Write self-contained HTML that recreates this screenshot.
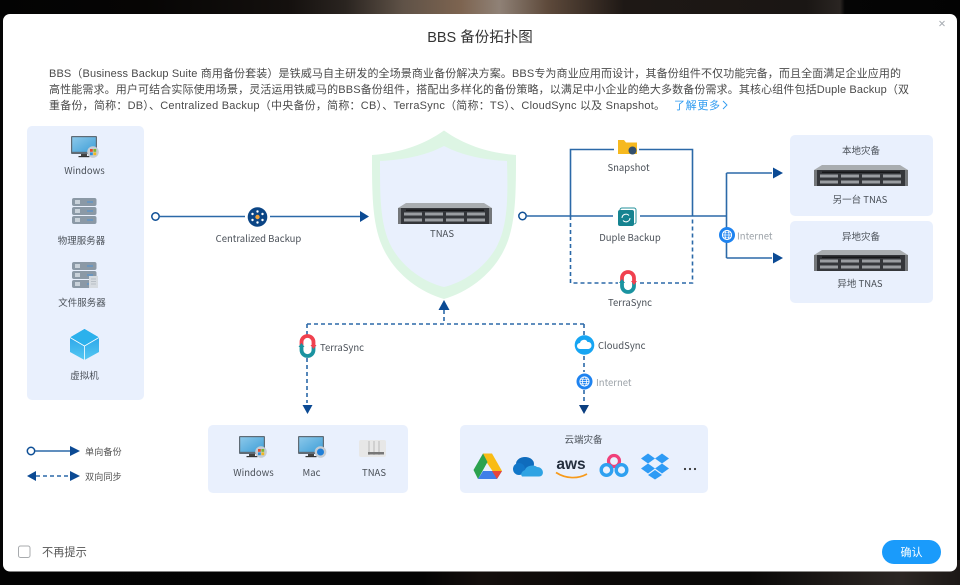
<!DOCTYPE html>
<html><head><meta charset="utf-8"><style>
html,body{margin:0;padding:0;width:960px;height:585px;overflow:hidden;background:#050505}
svg{display:block}
text{font-family:"Liberation Sans","Noto Sans CJK SC",sans-serif}
.l{font-family:"Noto Sans CJK SC","Liberation Sans",sans-serif;font-size:9.5px;fill:#4a5058;text-anchor:middle}
.p{font-size:11px;fill:#4a4a4a}
</style></head><body>
<svg xmlns="http://www.w3.org/2000/svg" width="960" height="585" viewBox="0 0 960 585">
<defs>
<linearGradient id="top" x1="0" x2="1" y1="0" y2="0">
<stop offset="0" stop-color="#030303"/><stop offset=".15" stop-color="#060504"/><stop offset=".3" stop-color="#14100e"/><stop offset=".36" stop-color="#2a2420"/><stop offset=".42" stop-color="#5f5247"/><stop offset=".48" stop-color="#7d6450"/><stop offset=".52" stop-color="#8f8176"/><stop offset=".57" stop-color="#5e4a3b"/><stop offset=".65" stop-color="#1e1815"/><stop offset=".84" stop-color="#1a1614"/><stop offset=".875" stop-color="#2a2522"/><stop offset=".88" stop-color="#050505"/><stop offset="1" stop-color="#030303"/>
</linearGradient>
<linearGradient id="bot" x1="0" x2="1" y1="0" y2="0">
<stop offset="0" stop-color="#030303"/><stop offset=".44" stop-color="#040404"/><stop offset=".5" stop-color="#140e0c"/><stop offset=".62" stop-color="#0b0908"/><stop offset=".78" stop-color="#0a0908"/><stop offset=".87" stop-color="#1e1a18"/><stop offset=".94" stop-color="#2c2724"/><stop offset="1" stop-color="#1c1816"/>
</linearGradient>
<linearGradient id="scr" x1="0" x2="1" y1="0" y2="1"><stop offset="0" stop-color="#8cc8ea"/><stop offset="1" stop-color="#3f9fd8"/></linearGradient>
<linearGradient id="cube" x1="0" x2="0" y1="0" y2="1"><stop offset="0" stop-color="#1f9be6"/><stop offset="1" stop-color="#55c8f2"/></linearGradient>
<g id="rack">
<path d="M8 0H86L94 5H0Z" fill="#a9adb0"/>
<rect x="0" y="5" width="94" height="16" fill="#34363a"/>
<g fill="#9a9da1"><rect x="6" y="9.500" width="18" height="3"/><rect x="27" y="9.500" width="18" height="3"/><rect x="48" y="9.500" width="18" height="3"/><rect x="69" y="9.500" width="18" height="3"/><rect x="6" y="15.500" width="18" height="3"/><rect x="27" y="15.500" width="18" height="3"/><rect x="48" y="15.500" width="18" height="3"/><rect x="69" y="15.500" width="18" height="3"/></g>
<rect x="0" y="5" width="3" height="16" fill="#74777a"/><rect x="91" y="5" width="3" height="16" fill="#74777a"/>
<rect x="8" y="6.500" width="78" height="1.500" fill="#17181a"/>
</g>
<g id="mon">
<rect x="0" y="0" width="26" height="18" rx="1" fill="#5f6b75"/>
<rect x="1.200" y="1.200" width="23.600" height="14.600" fill="url(#scr)"/>
<rect x="10" y="18" width="6" height="2" fill="#444"/><rect x="7.500" y="20" width="11" height="1.200" fill="#333"/>
</g>
<g id="winb">
<circle cx="0" cy="0" r="5.800" fill="#c6ccd2"/>
<rect x="-3" y="-3" width="2.800" height="2.800" fill="#e2492f"/><rect x=".4" y="-3" width="2.800" height="2.800" fill="#7cb62f"/><rect x="-3" y=".4" width="2.800" height="2.800" fill="#2f8fdb"/><rect x=".4" y=".4" width="2.800" height="2.800" fill="#f1b81f"/>
</g>
<g id="srv">
<rect x="0" y="0" width="24.500" height="8" rx="2" fill="#8b99a6"/><rect x="0" y="9" width="24.500" height="8" rx="2" fill="#8b99a6"/><rect x="0" y="18" width="24.500" height="8" rx="2" fill="#8b99a6"/>
<g fill="#c9d2da"><rect x="3" y="2" width="5" height="4"/><rect x="3" y="11" width="5" height="4"/><rect x="3" y="20" width="5" height="4"/></g>
<g fill="#4c93d6"><rect x="15" y="3.500" width="6" height="1"/><rect x="15" y="12.500" width="6" height="1"/><rect x="15" y="21.500" width="6" height="1"/></g>
</g>
<g id="ts">
<path d="M-6 1V-4A6 6 0 0 1 6 -4V1" fill="none" stroke="#f0414f" stroke-width="3.800"/>
<path d="M-6 -1V4A6 6 0 0 0 6 4V-1" fill="none" stroke="#1a93a0" stroke-width="3.800"/>
<path d="M3 -1H9L6 3Z" fill="#f0414f"/><path d="M-9 1H-3L-6 -3Z" fill="#1a93a0"/>
</g>
<g id="globe">
<circle r="8" fill="#1e83f0"/>
<circle r="4.600" fill="none" stroke="#fff" stroke-width="1"/>
<ellipse rx="2" ry="4.600" fill="none" stroke="#fff" stroke-width=".8"/>
<path d="M-4.600 0H4.600M-4 -2.200H4M-4 2.200H4" stroke="#fff" stroke-width=".7"/>
</g>
</defs>

<rect width="960" height="585" fill="#050505"/>
<rect width="960" height="16" fill="url(#top)"/>
<rect y="560" width="960" height="25" fill="url(#bot)"/>
<rect x="3" y="14" width="954" height="557.500" rx="7" fill="#fff"/>

<text x="480" y="42" font-size="14.500" fill="#333" text-anchor="middle">BBS 备份拓扑图</text>
<path d="M939.500 21L944.500 26M944.500 21L939.500 26" stroke="#a8adb3" stroke-width="1"/>

<text class="p" x="49" y="77" textLength="852" lengthAdjust="spacing">BBS（Business Backup Suite 商用备份套装）是铁威马自主研发的全场景商业备份解决方案。BBS专为商业应用而设计，其备份组件不仅功能完备，而且全面满足企业应用的</text>
<text class="p" x="49" y="93" textLength="860" lengthAdjust="spacing">高性能需求。用户可结合实际使用场景，灵活运用铁威马的BBS备份组件，搭配出多样化的备份策略，以满足中小企业的绝大多数备份需求。其核心组件包括Duple Backup（双</text>
<text class="p" x="49" y="109" textLength="616" lengthAdjust="spacing">重备份，简称：DB）、Centralized Backup（中央备份，简称：CB）、TerraSync（简称：TS）、CloudSync 以及 Snapshot。</text>
<text x="674" y="109" font-size="11" fill="#2f9bf0" textLength="46">了解更多</text>
<path d="M723 101L727 105L723 109" fill="none" stroke="#2f9bf0" stroke-width=".9"/>

<!-- left panel -->
<rect x="27" y="126" width="117" height="274" rx="5" fill="#e9f0fd"/>
<use href="#mon" x="71" y="136"/><use href="#winb" x="93" y="152"/>
<text class="l" x="84.500" y="174">Windows</text>
<use href="#srv" x="72" y="198"/>
<text class="l" x="81.500" y="244">物理服务器</text>
<use href="#srv" x="72" y="262"/>
<rect x="89" y="276" width="9" height="12" fill="#d6dbe0"/>
<path d="M91 279H96M91 281.500H96M91 284H96" stroke="#9aa3ab" stroke-width=".6"/>
<text class="l" x="82" y="306">文件服务器</text>
<path d="M84.500 329L99 337.500V352L84.500 360L70 352V337.500Z" fill="url(#cube)"/>
<path d="M84.500 329L99 337.500L84.500 346L70 337.500Z" fill="#2cb1ec"/>
<path d="M70 337.500L84.500 346V360" fill="none" stroke="#fff" stroke-width=".8"/>
<path d="M99 337.500L84.500 346" stroke="#fff" stroke-width=".8"/>
<text class="l" x="84.500" y="379">虚拟机</text>

<!-- centralized -->
<path d="M160 216.500H245M270 216.500H362" stroke="#2b69a8" stroke-width="1.600" fill="none"/>
<circle cx="155.500" cy="216.500" r="3.700" fill="#fff" stroke="#0e4f96" stroke-width="1.500"/>
<circle cx="257.500" cy="217" r="9.800" fill="#0b4585"/>
<g fill="#fff"><circle cx="257.500" cy="211.500" r="1.200"/><circle cx="257.500" cy="222.500" r="1.200"/><circle cx="252.500" cy="214" r="1.200"/><circle cx="262.500" cy="214" r="1.200"/><circle cx="252.500" cy="220" r="1.200"/><circle cx="262.500" cy="220" r="1.200"/></g>
<circle cx="257.500" cy="217" r="2.200" fill="#f2a33a"/>
<text class="l" x="258.500" y="242">Centralized Backup</text>
<path d="M360 211L369 216.500L360 222Z" fill="#0b4a94"/>

<!-- shield -->
<path d="M444 130.500C422 146 398 153 372 155C372 195 372 228 385 252C397 275 420 292 444 299C468 292 491 275 503 252C516 228 516 195 516 155C490 153 466 146 444 130.500Z" fill="#ddf5e4"/>
<path d="M444 146C425 156 402 160 380 161C380 198 380 226 392 248C403 267 423 282 444 287C465 282 485 267 496 248C508 226 508 198 507 161C486 160 463 156 444 146Z" fill="#e9f0fd"/>
<use href="#rack" x="398" y="203"/>
<text class="l" x="442" y="237">TNAS</text>
<path d="M444 300L449.500 310H438.500Z" fill="#0b4a94"/>

<!-- right network -->
<path d="M527 216H613M640 216H726.500M726.500 173V258M726.500 173H772M726.500 258H772" stroke="#2b69a8" stroke-width="1.600" fill="none"/>
<path d="M570.500 216V149.500H614M639 149.500H692.500V216" stroke="#2b69a8" stroke-width="1.600" fill="none"/>
<path d="M570.500 216V283H618M640 283H692.500V216" stroke="#2b69a8" stroke-width="1.600" stroke-dasharray="4 3" fill="none"/>
<circle cx="522.500" cy="216" r="3.700" fill="#fff" stroke="#0e4f96" stroke-width="1.500"/>
<path d="M618 140H624L626 142.500H637V154H618Z" fill="#f6b91f"/>
<circle cx="632.500" cy="150.500" r="4" fill="#33506e"/>
<text class="l" x="628.500" y="171">Snapshot</text>
<rect x="620" y="208" width="16" height="16" rx="2" fill="none" stroke="#25919b" stroke-width="1"/>
<rect x="618" y="210" width="16" height="16" rx="2" fill="#158390"/>
<path d="M622 218a4 4 0 0 1 7-2.500M630 218a4 4 0 0 1 -7 2.500" fill="none" stroke="#fff" stroke-width="1"/>
<text class="l" x="630" y="241">Duple Backup</text>
<use href="#ts" x="628" y="282"/>
<text class="l" x="630" y="306">TerraSync</text>
<use href="#globe" x="727" y="235"/>
<text x="737" y="239.500" font-size="9.500" fill="#9da3a9" style="font-family:'Noto Sans CJK SC',sans-serif">Internet</text>
<path d="M773 167.500L783 173L773 178.500ZM773 252.500L783 258L773 263.500Z" fill="#0b4a94"/>

<rect x="790" y="135" width="143" height="81" rx="5" fill="#e9f0fd"/>
<text class="l" x="861" y="154">本地灾备</text>
<use href="#rack" x="814" y="165"/>
<text class="l" x="860" y="203">另一台 TNAS</text>
<rect x="790" y="221" width="143" height="82" rx="5" fill="#e9f0fd"/>
<text class="l" x="861" y="240">异地灾备</text>
<use href="#rack" x="814" y="250"/>
<text class="l" x="860" y="287">异地 TNAS</text>

<!-- lower sync -->
<path d="M307 324H584M444 310V324M307 324V336M307 358V403M584 324V335M584 356V372M584 390V403" stroke="#2b69a8" stroke-width="1.600" stroke-dasharray="4 3" fill="none"/>
<use href="#ts" x="307.500" y="346"/>
<text x="320" y="351" font-size="9.500" fill="#4a5058" style="font-family:'Noto Sans CJK SC',sans-serif">TerraSync</text>
<path d="M302.500 405H312.500L307.500 414Z" fill="#0b4a94"/>
<circle cx="584.500" cy="345" r="9.800" fill="#16a5f3"/>
<path d="M580 349a3 3 0 0 1 0-6 4 4 0 0 1 7.500-1 3.500 3.500 0 0 1 1 7Z" fill="#fff"/>
<text x="598" y="349" font-size="9.500" fill="#4a5058" style="font-family:'Noto Sans CJK SC',sans-serif">CloudSync</text>
<use href="#globe" x="584.500" y="381.500"/>
<text x="596" y="386" font-size="9.500" fill="#9da3a9" style="font-family:'Noto Sans CJK SC',sans-serif">Internet</text>
<path d="M579 405H589L584 414Z" fill="#0b3f80"/>

<rect x="208" y="425" width="200" height="68" rx="5" fill="#e9f0fd"/>
<use href="#mon" x="239" y="436"/><use href="#winb" x="261" y="452"/>
<text class="l" x="253.500" y="476">Windows</text>
<use href="#mon" x="298" y="436"/>
<circle cx="320.500" cy="452" r="5.800" fill="#c6ccd2"/><circle cx="320.500" cy="452" r="3.500" fill="#1f7fd8"/>
<text class="l" x="311.500" y="476">Mac</text>
<rect x="359" y="440" width="27" height="17" rx="2" fill="#e7e7e7"/>
<path d="M369 441V455M374 441V455M379 441V455" stroke="#b8b8b8" stroke-width="1"/>
<rect x="368" y="452" width="16" height="2.500" fill="#777"/>
<text class="l" x="374" y="476">TNAS</text>

<rect x="460" y="425" width="248" height="68" rx="5" fill="#e9f0fd"/>
<text class="l" x="583.500" y="443">云端灾备</text>
<!-- gdrive -->
<path d="M483 453.500H492L502 471H492.500L483 457Z" fill="#f9bc15"/>
<path d="M483 453.500L473.500 470L478 479L487.500 462Z" fill="#2ca24f"/>
<path d="M478 479H497L502 471H483Z" fill="#3f7ee8"/>
<path d="M497 479L502 471H492Z" fill="#e9453a"/>
<!-- onedrive -->
<ellipse cx="525" cy="464" rx="9" ry="7" fill="#0f6cbd"/>
<ellipse cx="519" cy="469" rx="6" ry="6" fill="#1277c9"/>
<path d="M522 476.500H539C545 476.500 544 467 537 467C533 464 526 466 525 470C522 471 520 474 522 476.500Z" fill="#2fa3e3"/>
<!-- aws -->
<text x="571" y="469" font-size="15.500" font-weight="bold" fill="#252f3e" text-anchor="middle">aws</text>
<path d="M556 472.500C566 479 578 479 587 474" fill="none" stroke="#f79a1b" stroke-width="1.700"/>
<!-- baidu -->
<circle cx="614" cy="461" r="5.500" fill="none" stroke="#f0407a" stroke-width="3.200"/>
<circle cx="606.500" cy="470" r="5.300" fill="none" stroke="#2ea0f0" stroke-width="3.400"/>
<circle cx="621.500" cy="470" r="5.300" fill="none" stroke="#2ea0f0" stroke-width="3.400"/>
<!-- dropbox -->
<path d="M648 453.500L655 458.500L648 463.500L641 458.500ZM662 453.500L669 458.500L662 463.500L655 458.500ZM648 463.500L655 468.500L648 473.500L641 468.500ZM662 463.500L669 468.500L662 473.500L655 468.500ZM655 470L662 475L655 479.500L648 475Z" fill="#2e9bf5"/>
<g fill="#333"><circle cx="685" cy="469" r="1.100"/><circle cx="690" cy="469" r="1.100"/><circle cx="695" cy="469" r="1.100"/></g>

<!-- legend -->
<circle cx="31" cy="451" r="3.700" fill="#fff" stroke="#0e4f96" stroke-width="1.500"/>
<path d="M35 451H71" stroke="#2b69a8" stroke-width="1.600"/>
<path d="M70 446L80 451L70 456Z" fill="#0b4a94"/>
<text x="85" y="455" font-size="9.200px" fill="#555" style="font-family:'Noto Sans CJK SC',sans-serif">单向备份</text>
<path d="M36 476H70" stroke="#2b69a8" stroke-width="1.600" stroke-dasharray="4 3"/>
<path d="M36 471L27 476L36 481ZM70 471L80 476L70 481Z" fill="#0b4a94"/>
<text x="85" y="480" font-size="9.200px" fill="#555" style="font-family:'Noto Sans CJK SC',sans-serif">双向同步</text>

<!-- footer -->
<rect x="18.500" y="546" width="11.500" height="11.500" rx="2" fill="#fff" stroke="#a8abae" stroke-width="1"/>
<text x="42" y="556" font-size="11.200px" fill="#555" style="font-family:'Noto Sans CJK SC',sans-serif">不再提示</text>
<rect x="882" y="540" width="59" height="24" rx="12" fill="#1a9bfb"/>
<text x="911.500" y="556" font-size="11px" fill="#fff" text-anchor="middle" style="font-family:'Noto Sans CJK SC',sans-serif">确认</text>
</svg>
</body></html>
